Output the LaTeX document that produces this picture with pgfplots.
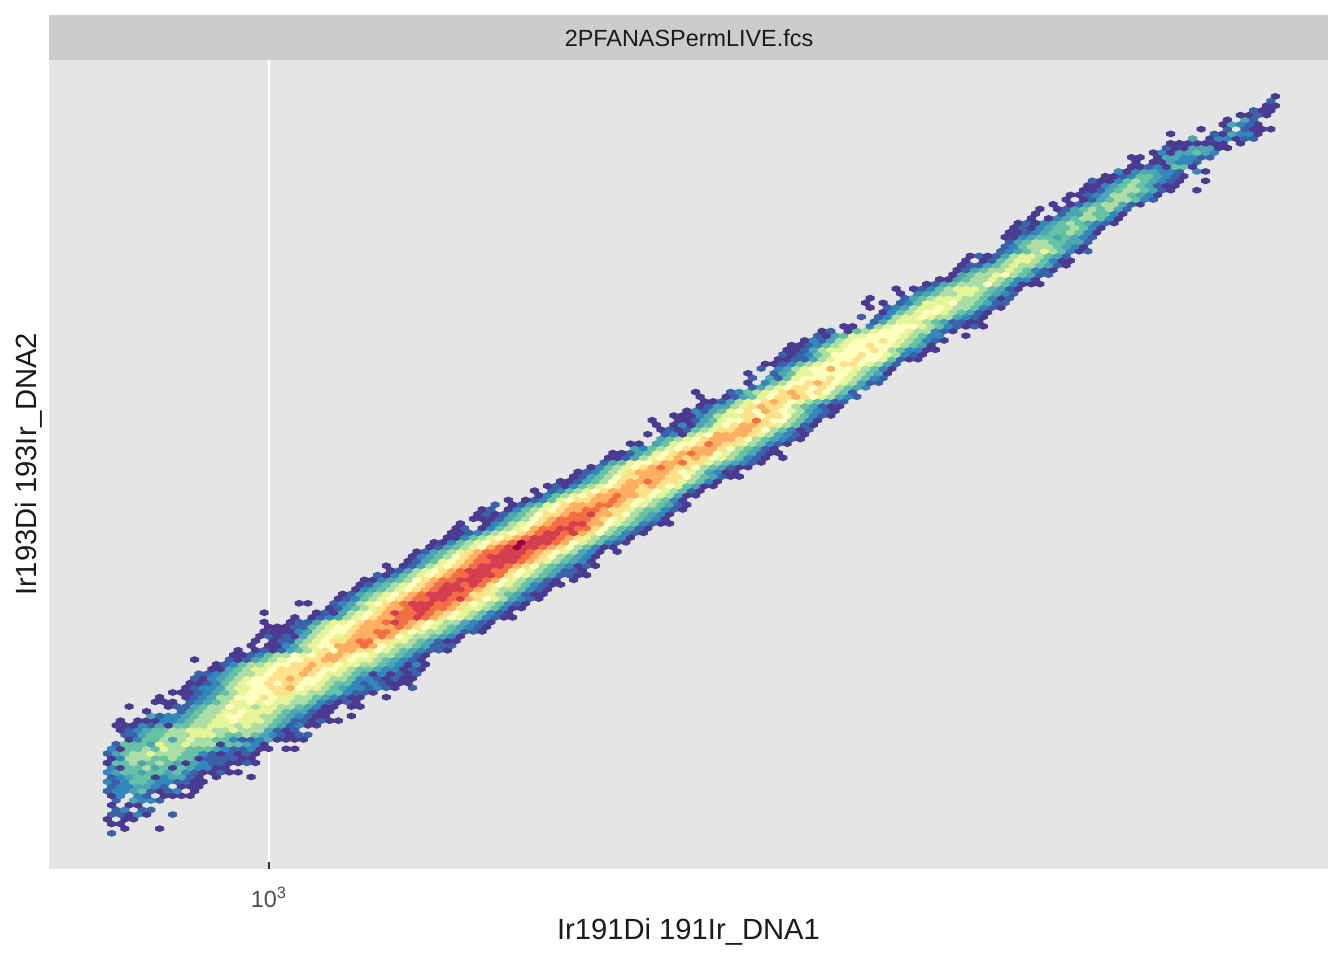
\documentclass[border=0pt]{standalone}
\usepackage{pgfplots}
\pgfplotsset{compat=1.18}
\usepackage{fontspec}
\setmainfont{Liberation Sans}
\definecolor{panel}{HTML}{E5E5E5}
\definecolor{strip}{HTML}{CCCCCC}
\definecolor{tk}{HTML}{333333}
\definecolor{tl}{HTML}{4D4D4D}
\definecolor{ttl}{HTML}{1A1A1A}
\pgfdeclareplotmark{hex}{%
  \pgfpathmoveto{\pgfqpoint{0pt}{1.7pt}}%
  \pgfpathlineto{\pgfqpoint{2.25pt}{0.85pt}}%
  \pgfpathlineto{\pgfqpoint{2.25pt}{-0.85pt}}%
  \pgfpathlineto{\pgfqpoint{0pt}{-1.7pt}}%
  \pgfpathlineto{\pgfqpoint{-2.25pt}{-0.85pt}}%
  \pgfpathlineto{\pgfqpoint{-2.25pt}{0.85pt}}%
  \pgfpathclose\pgfusepathqfill}
\begin{document}
\begin{tikzpicture}
\useasboundingbox (0,0) rectangle (672pt,480pt);
\fill[strip] (24.5pt,449.9pt) rectangle (664pt,472.5pt);
\node[text=ttl,font=\fontsize{11.7}{14}\selectfont,inner sep=0pt] at (344.5pt,461pt) {2PFANASPermLIVE.fcs};
\begin{axis}[
  at={(24.5pt,45.5pt)},anchor=south west,
  scale only axis,width=639.5pt,height=404.5pt,
  xmin=-12.39,xmax=281.09,ymin=-7.6,ymax=164.74,
  axis background/.style={fill=panel},
  axis line style={draw=none},
  xtick={38.09},xticklabels={10\textsuperscript{3}},ytick=\empty,
  tick pos=bottom,
  major tick length=3.5pt,
  tick style={draw=tk,line width=1pt},
  xmajorgrids,
  major grid style={draw=white,line width=1.2pt},
  x tick label style={text=tl,font=\fontsize{11.7}{14}\selectfont,inner sep=0pt,yshift=-9pt},
  xlabel={Ir191Di 191Ir\_DNA1},ylabel={Ir193Di 193Ir\_DNA2},
  every axis x label/.style={at={(axis description cs:0.5,0)},anchor=north,inner sep=0pt,yshift=-24.5pt,text=ttl,font=\fontsize{14.6}{17}\selectfont},
  every axis y label/.style={at={(axis description cs:0,0.5)},rotate=90,anchor=south,inner sep=0pt,yshift=3pt,text=ttl,font=\fontsize{14.6}{17}\selectfont},
  colormap={spec}{rgb255=(74,58,146) rgb255=(58,98,170) rgb255=(50,136,189) rgb255=(75,165,178) rgb255=(102,194,165) rgb255=(171,221,164) rgb255=(230,245,152) rgb255=(255,255,191) rgb255=(254,224,139) rgb255=(253,174,97) rgb255=(244,109,67) rgb255=(213,62,79) rgb255=(158,1,66)},
  point meta min=0,point meta max=12,
]
\addplot[scatter,only marks,mark=hex,point meta=explicit,scatter/use mapped color={draw=none,fill=mapped color}] table[x=i,y=j,meta=c] {
i j c
2 0 1
5 1 0
13 1 0
2 2 0
4 2 0
1 3 0
5 3 0
7 3 0
2 4 1
4 4 1
6 4 0
8 4 2
10 4 0
16 4 1
3 5 1
5 5 2
9 5 1
11 5 1
2 6 0
6 6 0
8 6 0
3 7 1
7 7 3
9 7 2
11 7 2
13 7 1
2 8 0
4 8 2
8 8 2
10 8 1
14 8 0
16 8 0
18 8 0
20 8 0
1 9 1
3 9 2
5 9 2
7 9 3
9 9 4
11 9 1
13 9 0
15 9 1
17 9 2
21 9 0
2 10 1
4 10 2
6 10 2
8 10 3
10 10 3
12 10 2
14 10 1
18 10 0
20 10 0
22 10 0
1 11 2
3 11 1
5 11 2
7 11 4
9 11 4
11 11 3
13 11 2
15 11 2
17 11 1
19 11 1
21 11 0
23 11 0
2 12 1
4 12 2
6 12 3
8 12 4
10 12 4
12 12 0
14 12 2
16 12 3
18 12 3
20 12 1
22 12 0
26 12 0
34 12 0
1 13 2
3 13 3
5 13 4
7 13 4
9 13 3
11 13 4
13 13 4
15 13 3
17 13 4
19 13 2
21 13 1
23 13 0
25 13 0
27 13 1
29 13 0
31 13 0
2 14 2
4 14 0
6 14 4
8 14 4
10 14 5
12 14 3
14 14 4
16 14 0
18 14 4
20 14 3
22 14 2
24 14 2
26 14 0
28 14 0
1 15 0
3 15 4
5 15 4
7 15 5
9 15 3
11 15 4
13 15 5
15 15 4
17 15 3
19 15 0
21 15 3
23 15 2
25 15 1
27 15 1
29 15 0
31 15 0
33 15 1
35 15 0
2 16 0
4 16 2
6 16 5
8 16 5
10 16 5
12 16 4
14 16 4
16 16 5
18 16 4
20 16 4
22 16 0
24 16 1
26 16 1
28 16 1
30 16 1
32 16 0
34 16 0
1 17 1
3 17 3
5 17 4
7 17 5
9 17 5
11 17 6
13 17 5
15 17 5
17 17 5
19 17 4
21 17 4
23 17 2
25 17 1
27 17 0
29 17 1
31 17 0
33 17 1
35 17 0
2 18 2
4 18 0
6 18 4
8 18 4
10 18 5
12 18 4
14 18 6
16 18 5
18 18 5
20 18 4
22 18 4
24 18 4
26 18 3
28 18 2
30 18 1
32 18 1
34 18 2
36 18 0
38 18 0
42 18 0
44 18 0
3 19 1
5 19 4
7 19 4
9 19 4
11 19 3
13 19 6
15 19 5
17 19 5
19 19 6
21 19 5
23 19 5
25 19 5
27 19 0
29 19 4
31 19 4
33 19 3
35 19 2
37 19 0
6 20 0
8 20 2
10 20 4
12 20 4
14 20 5
16 20 3
18 20 5
20 20 6
22 20 5
24 20 5
26 20 4
28 20 4
30 20 2
32 20 1
34 20 1
36 20 2
38 20 3
40 20 0
42 20 0
44 20 0
46 20 0
5 21 1
7 21 1
9 21 3
11 21 4
13 21 4
15 21 5
17 21 5
19 21 5
21 21 6
23 21 6
25 21 6
27 21 5
29 21 4
31 21 4
33 21 5
35 21 4
37 21 3
39 21 2
41 21 1
43 21 0
45 21 1
47 21 1
4 22 0
6 22 1
8 22 2
10 22 3
12 22 4
14 22 4
16 22 5
18 22 5
20 22 6
22 22 6
24 22 6
26 22 5
28 22 5
30 22 6
32 22 5
34 22 5
36 22 5
38 22 3
40 22 1
42 22 0
44 22 1
3 23 0
5 23 0
7 23 0
9 23 2
11 23 1
13 23 3
15 23 0
17 23 4
19 23 4
21 23 5
23 23 5
25 23 6
27 23 6
29 23 6
31 23 5
33 23 6
35 23 5
37 23 5
39 23 4
41 23 3
43 23 1
45 23 2
47 23 0
49 23 0
4 24 0
8 24 0
10 24 0
12 24 0
14 24 2
16 24 2
18 24 3
20 24 4
22 24 5
24 24 5
26 24 6
28 24 6
30 24 7
32 24 6
34 24 6
36 24 6
38 24 5
40 24 4
42 24 3
44 24 1
46 24 1
48 24 0
50 24 1
52 24 0
54 24 0
11 25 3
13 25 1
15 25 2
17 25 2
19 25 3
21 25 4
23 25 5
25 25 5
27 25 6
29 25 7
31 25 7
33 25 6
35 25 6
37 25 5
39 25 5
41 25 4
43 25 3
45 25 2
47 25 1
49 25 0
51 25 0
57 25 0
10 26 0
18 26 1
20 26 3
22 26 4
24 26 5
26 26 5
28 26 6
30 26 6
32 26 7
34 26 6
36 26 6
38 26 6
40 26 5
42 26 4
44 26 3
46 26 3
48 26 1
50 26 0
52 26 0
6 27 0
15 27 0
17 27 1
19 27 1
21 27 3
23 27 4
25 27 5
27 27 5
29 27 7
31 27 6
33 27 6
35 27 5
37 27 6
39 27 6
41 27 5
43 27 5
45 27 4
47 27 3
49 27 2
51 27 0
53 27 0
57 27 0
59 27 0
12 28 0
14 28 0
16 28 0
20 28 1
22 28 2
24 28 3
26 28 4
28 28 5
30 28 6
32 28 6
34 28 7
36 28 6
38 28 7
40 28 6
42 28 6
44 28 5
46 28 5
48 28 4
50 28 2
52 28 1
54 28 0
56 28 1
58 28 0
13 29 0
19 29 0
21 29 1
23 29 2
25 29 3
27 29 5
29 29 5
31 29 7
33 29 7
35 29 7
37 29 8
39 29 7
41 29 6
43 29 6
45 29 5
47 29 5
49 29 4
51 29 3
53 29 2
55 29 1
57 29 0
59 29 0
65 29 0
16 30 0
18 30 0
20 30 0
22 30 1
24 30 2
26 30 3
28 30 4
30 30 5
32 30 6
34 30 7
36 30 7
38 30 7
40 30 8
42 30 8
44 30 6
46 30 6
48 30 5
50 30 5
52 30 4
54 30 4
56 30 2
58 30 1
60 30 1
62 30 0
19 31 0
21 31 1
23 31 2
25 31 2
27 31 3
29 31 5
31 31 6
33 31 6
35 31 7
37 31 7
39 31 8
41 31 8
43 31 9
45 31 7
47 31 6
49 31 6
51 31 5
53 31 4
55 31 3
57 31 2
59 31 2
61 31 1
63 31 2
65 31 1
67 31 0
71 31 1
20 32 0
22 32 0
24 32 1
26 32 2
28 32 4
30 32 5
32 32 6
34 32 7
36 32 7
38 32 8
40 32 7
42 32 8
44 32 8
46 32 7
48 32 7
50 32 6
52 32 5
54 32 4
56 32 4
58 32 2
60 32 1
62 32 2
64 32 1
66 32 0
68 32 0
70 32 0
21 33 1
23 33 0
25 33 2
27 33 3
29 33 4
31 33 5
33 33 6
35 33 7
37 33 7
39 33 8
41 33 8
43 33 9
45 33 8
47 33 7
49 33 7
51 33 6
53 33 5
55 33 5
57 33 4
59 33 2
61 33 2
63 33 1
65 33 0
67 33 1
69 33 0
71 33 0
22 34 1
24 34 1
26 34 2
28 34 3
30 34 4
32 34 5
34 34 5
36 34 6
38 34 7
40 34 8
42 34 8
44 34 8
46 34 9
48 34 8
50 34 7
52 34 6
54 34 6
56 34 5
58 34 4
60 34 3
62 34 0
64 34 2
66 34 0
68 34 1
70 34 0
72 34 1
25 35 0
27 35 0
29 35 3
31 35 4
33 35 5
35 35 6
37 35 6
39 35 7
41 35 8
43 35 8
45 35 8
47 35 9
49 35 8
51 35 7
53 35 7
55 35 6
57 35 5
59 35 4
61 35 4
63 35 3
65 35 2
67 35 2
69 35 0
71 35 1
73 35 0
26 36 0
28 36 1
30 36 2
32 36 4
34 36 5
36 36 5
38 36 6
40 36 7
42 36 7
44 36 8
46 36 8
48 36 9
50 36 8
52 36 8
54 36 7
56 36 6
58 36 6
60 36 5
62 36 5
64 36 4
66 36 3
68 36 2
70 36 0
72 36 2
74 36 0
21 37 0
29 37 1
31 37 0
33 37 1
35 37 3
37 37 4
39 37 5
41 37 6
43 37 7
45 37 7
47 37 8
49 37 8
51 37 9
53 37 9
55 37 8
57 37 7
59 37 6
61 37 6
63 37 5
65 37 4
67 37 3
69 37 2
71 37 1
73 37 0
30 38 0
32 38 0
34 38 1
36 38 2
38 38 4
40 38 5
42 38 5
44 38 7
46 38 6
48 38 7
50 38 8
52 38 9
54 38 9
56 38 8
58 38 7
60 38 7
62 38 6
64 38 5
66 38 5
68 38 4
70 38 3
72 38 1
74 38 0
79 39 0
31 39 0
35 39 0
37 39 1
39 39 0
41 39 1
43 39 3
45 39 4
47 39 5
49 39 6
51 39 8
53 39 7
55 39 9
57 39 9
59 39 8
61 39 8
63 39 7
65 39 6
67 39 5
69 39 4
71 39 3
73 39 2
75 39 1
77 39 1
34 40 0
38 40 0
40 40 0
42 40 2
44 40 3
46 40 5
48 40 6
50 40 7
52 40 7
54 40 9
56 40 9
58 40 9
60 40 10
62 40 9
64 40 7
66 40 6
68 40 5
70 40 5
72 40 4
74 40 3
76 40 1
78 40 1
80 40 1
35 41 0
39 41 0
41 41 1
43 41 1
45 41 4
47 41 5
49 41 6
51 41 7
53 41 8
55 41 8
57 41 9
59 41 10
61 41 10
63 41 8
65 41 8
67 41 6
69 41 6
71 41 5
73 41 4
75 41 3
77 41 1
79 41 0
81 41 0
36 42 0
38 42 1
40 42 0
42 42 1
44 42 0
46 42 3
48 42 5
50 42 6
52 42 7
54 42 6
56 42 8
58 42 9
60 42 9
62 42 9
64 42 10
66 42 9
68 42 7
70 42 6
72 42 5
74 42 5
76 42 4
78 42 3
80 42 2
82 42 0
37 43 0
39 43 0
41 43 0
43 43 0
45 43 2
47 43 3
49 43 5
51 43 6
53 43 7
55 43 7
57 43 8
59 43 9
61 43 9
63 43 10
65 43 10
67 43 9
69 43 8
71 43 7
73 43 6
75 43 5
77 43 5
79 43 4
81 43 3
83 43 1
85 43 1
87 43 0
38 44 0
40 44 0
42 44 0
44 44 1
46 44 1
48 44 4
50 44 5
52 44 6
54 44 7
56 44 7
58 44 8
60 44 9
62 44 9
64 44 9
66 44 9
68 44 10
70 44 9
72 44 8
74 44 7
76 44 6
78 44 5
80 44 4
82 44 3
84 44 2
86 44 1
88 44 0
37 45 0
43 45 0
45 45 1
47 45 1
49 45 3
51 45 5
53 45 6
55 45 6
57 45 7
59 45 8
61 45 9
63 45 9
65 45 10
67 45 11
69 45 10
71 45 9
73 45 8
75 45 7
77 45 6
79 45 5
81 45 5
83 45 3
85 45 2
87 45 1
89 45 0
44 46 0
48 46 0
50 46 1
52 46 2
54 46 3
56 46 5
58 46 6
60 46 7
62 46 8
64 46 9
66 46 9
68 46 10
70 46 10
72 46 11
74 46 10
76 46 9
78 46 8
80 46 7
82 46 6
84 46 5
86 46 4
88 46 2
90 46 1
92 46 0
94 46 0
37 47 0
49 47 0
51 47 1
53 47 0
55 47 3
57 47 5
59 47 6
61 47 7
63 47 8
65 47 9
67 47 11
69 47 10
71 47 10
73 47 11
75 47 10
77 47 9
79 47 8
81 47 7
83 47 6
85 47 5
87 47 4
89 47 2
91 47 1
93 47 0
52 48 0
54 48 1
56 48 3
58 48 4
60 48 5
62 48 6
64 48 8
66 48 9
68 48 9
70 48 10
72 48 11
74 48 11
76 48 10
78 48 10
80 48 9
82 48 8
84 48 6
86 48 6
88 48 5
90 48 4
92 48 2
94 48 0
96 48 0
45 49 0
47 49 0
53 49 1
55 49 2
57 49 3
59 49 5
61 49 6
63 49 7
65 49 8
67 49 9
69 49 10
71 49 11
73 49 11
75 49 11
77 49 10
79 49 10
81 49 9
83 49 8
85 49 7
87 49 6
89 49 5
91 49 4
93 49 2
95 49 1
97 49 0
54 50 0
56 50 1
58 50 2
60 50 4
62 50 5
64 50 6
66 50 7
68 50 8
70 50 9
72 50 10
74 50 10
76 50 11
78 50 11
80 50 10
82 50 11
84 50 9
86 50 8
88 50 7
90 50 6
92 50 5
94 50 3
96 50 2
98 50 1
100 50 0
55 51 0
57 51 1
59 51 3
61 51 4
63 51 5
65 51 6
67 51 7
69 51 8
71 51 9
73 51 10
75 51 11
77 51 11
79 51 11
81 51 10
83 51 10
85 51 8
87 51 8
89 51 6
91 51 5
93 51 4
95 51 3
97 51 1
99 51 0
101 51 0
58 52 0
60 52 2
62 52 3
64 52 4
66 52 5
68 52 6
70 52 7
72 52 8
74 52 9
76 52 10
78 52 11
80 52 11
82 52 11
84 52 10
86 52 9
88 52 8
90 52 6
92 52 5
94 52 5
96 52 4
98 52 2
100 52 1
102 52 0
59 53 0
61 53 1
63 53 3
65 53 4
67 53 5
69 53 6
71 53 7
73 53 8
75 53 9
77 53 10
79 53 11
81 53 11
83 53 10
85 53 11
87 53 10
89 53 8
91 53 7
93 53 6
95 53 5
97 53 4
99 53 2
101 53 1
103 53 0
105 53 0
60 54 0
62 54 0
64 54 2
66 54 3
68 54 4
70 54 5
72 54 7
74 54 8
76 54 9
78 54 10
80 54 10
82 54 11
84 54 11
86 54 11
88 54 10
90 54 9
92 54 7
94 54 6
96 54 5
98 54 4
100 54 3
102 54 1
104 54 0
108 54 0
63 55 1
65 55 0
67 55 2
69 55 4
71 55 5
73 55 6
75 55 7
77 55 8
79 55 9
81 55 10
83 55 10
85 55 11
87 55 11
89 55 11
91 55 10
93 55 8
95 55 7
97 55 6
99 55 5
101 55 4
103 55 3
105 55 1
107 55 1
109 55 0
111 55 0
66 56 0
68 56 1
70 56 3
72 56 5
74 56 6
76 56 7
78 56 8
80 56 9
82 56 10
84 56 11
86 56 11
88 56 11
90 56 10
92 56 10
94 56 8
96 56 7
98 56 6
100 56 5
102 56 4
104 56 3
106 56 1
108 56 1
110 56 0
65 57 0
69 57 0
71 57 1
73 57 3
75 57 5
77 57 6
79 57 7
81 57 8
83 57 9
85 57 10
87 57 11
89 57 11
91 57 11
93 57 10
95 57 9
97 57 8
99 57 7
101 57 5
103 57 4
105 57 3
107 57 2
109 57 0
111 57 1
113 57 0
70 58 0
72 58 1
74 58 3
76 58 4
78 58 6
80 58 7
82 58 8
84 58 9
86 58 10
88 58 10
90 58 11
92 58 11
94 58 11
96 58 10
98 58 9
100 58 8
102 58 6
104 58 5
106 58 4
108 58 3
110 58 2
112 58 0
71 59 0
73 59 2
75 59 3
77 59 4
79 59 5
81 59 7
83 59 8
85 59 9
87 59 10
89 59 11
91 59 11
93 59 11
95 59 11
97 59 10
99 59 9
101 59 8
103 59 7
105 59 5
107 59 4
109 59 3
111 59 2
113 59 0
72 60 0
74 60 1
76 60 3
78 60 4
80 60 5
82 60 6
84 60 8
86 60 9
88 60 10
90 60 10
92 60 11
94 60 11
96 60 11
98 60 10
100 60 9
102 60 8
104 60 7
106 60 6
108 60 5
110 60 3
112 60 2
114 60 0
118 60 0
75 61 0
77 61 1
79 61 3
81 61 4
83 61 5
85 61 6
87 61 7
89 61 9
91 61 10
93 61 11
95 61 12
97 61 11
99 61 11
101 61 10
103 61 9
105 61 8
107 61 7
109 61 5
111 61 4
113 61 2
115 61 0
117 61 0
76 62 0
78 62 0
80 62 2
82 62 4
84 62 5
86 62 6
88 62 7
90 62 8
92 62 9
94 62 10
96 62 12
98 62 11
100 62 11
102 62 11
104 62 10
106 62 9
108 62 7
110 62 6
112 62 5
114 62 4
116 62 2
118 62 1
120 62 0
79 63 0
81 63 0
83 63 2
85 63 4
87 63 5
89 63 6
91 63 7
93 63 8
95 63 9
97 63 10
99 63 11
101 63 11
103 63 11
105 63 10
107 63 9
109 63 8
111 63 6
113 63 5
115 63 4
117 63 3
119 63 2
121 63 0
80 64 0
82 64 0
84 64 1
86 64 2
88 64 4
90 64 5
92 64 6
94 64 7
96 64 8
98 64 9
100 64 10
102 64 11
104 64 11
106 64 10
108 64 11
110 64 9
112 64 8
114 64 7
116 64 5
118 64 4
120 64 2
122 64 1
124 64 0
81 65 0
83 65 1
87 65 0
89 65 2
91 65 4
93 65 5
95 65 6
97 65 7
99 65 9
101 65 10
103 65 10
105 65 11
107 65 11
109 65 10
111 65 10
113 65 8
115 65 7
117 65 5
119 65 4
121 65 3
123 65 1
125 65 0
82 66 0
88 66 0
90 66 2
92 66 3
94 66 5
96 66 6
98 66 7
100 66 8
102 66 9
104 66 10
106 66 10
108 66 11
110 66 11
112 66 9
114 66 9
116 66 7
118 66 6
120 66 5
122 66 4
124 66 2
126 66 1
128 66 0
130 66 0
85 67 0
87 67 0
89 67 0
91 67 1
93 67 3
95 67 4
97 67 5
99 67 7
101 67 8
103 67 9
105 67 10
107 67 10
109 67 10
111 67 10
113 67 9
115 67 8
117 67 7
119 67 6
121 67 5
123 67 4
125 67 3
127 67 2
129 67 0
86 68 0
88 68 1
90 68 0
92 68 1
94 68 3
96 68 4
98 68 5
100 68 7
102 68 8
104 68 8
106 68 9
108 68 10
110 68 10
112 68 11
114 68 9
116 68 9
118 68 8
120 68 7
122 68 5
124 68 4
126 68 3
128 68 2
130 68 0
87 69 0
89 69 1
93 69 0
95 69 2
97 69 4
99 69 5
101 69 6
103 69 7
105 69 8
107 69 9
109 69 9
111 69 10
113 69 10
115 69 9
117 69 8
119 69 8
121 69 6
123 69 5
125 69 4
127 69 4
129 69 2
131 69 1
133 69 0
90 70 1
94 70 0
96 70 1
98 70 3
100 70 4
102 70 6
104 70 7
106 70 8
108 70 9
110 70 9
112 70 9
114 70 10
116 70 10
118 70 9
120 70 8
122 70 7
124 70 6
126 70 5
128 70 4
130 70 3
132 70 1
134 70 0
93 71 0
97 71 0
99 71 1
101 71 2
103 71 4
105 71 6
107 71 7
109 71 8
111 71 8
113 71 9
115 71 9
117 71 10
119 71 9
121 71 8
123 71 7
125 71 6
127 71 5
129 71 4
131 71 2
133 71 0
100 72 0
102 72 2
104 72 4
106 72 5
108 72 6
110 72 7
112 72 8
114 72 9
116 72 9
118 72 10
120 72 9
122 72 9
124 72 8
126 72 7
128 72 6
130 72 5
132 72 3
134 72 0
136 72 0
99 73 0
103 73 1
105 73 2
107 73 4
109 73 5
111 73 6
113 73 7
115 73 8
117 73 9
119 73 9
121 73 9
123 73 8
125 73 8
127 73 7
129 73 6
131 73 5
133 73 4
135 73 1
137 73 0
102 74 0
104 74 1
106 74 0
108 74 2
110 74 4
112 74 5
114 74 6
116 74 7
118 74 8
120 74 9
122 74 9
124 74 8
126 74 9
128 74 8
130 74 7
132 74 6
134 74 4
136 74 3
138 74 0
140 74 0
105 75 0
107 75 0
109 75 1
111 75 3
113 75 4
115 75 5
117 75 7
119 75 8
121 75 9
123 75 9
125 75 10
127 75 9
129 75 8
131 75 8
133 75 6
135 75 5
137 75 4
139 75 2
141 75 0
108 76 0
110 76 1
112 76 3
114 76 4
116 76 5
118 76 7
120 76 8
122 76 8
124 76 9
126 76 9
128 76 9
130 76 8
132 76 8
134 76 7
136 76 5
138 76 4
140 76 3
142 76 1
144 76 0
146 76 0
109 77 0
111 77 1
113 77 2
115 77 4
117 77 5
119 77 6
121 77 8
123 77 9
125 77 9
127 77 9
129 77 9
131 77 8
133 77 7
135 77 6
137 77 5
139 77 3
141 77 2
143 77 0
145 77 0
112 78 0
114 78 2
116 78 4
118 78 5
120 78 6
122 78 7
124 78 8
126 78 9
128 78 10
130 78 9
132 78 8
134 78 8
136 78 7
138 78 5
140 78 4
142 78 3
144 78 1
146 78 0
148 78 0
115 79 1
117 79 3
119 79 4
121 79 6
123 79 7
125 79 7
127 79 8
129 79 9
131 79 9
133 79 10
135 79 8
137 79 8
139 79 6
141 79 5
143 79 4
145 79 3
147 79 2
149 79 1
151 79 0
116 80 0
118 80 0
120 80 1
122 80 3
124 80 5
126 80 6
128 80 7
130 80 8
132 80 9
134 80 8
136 80 9
138 80 8
140 80 7
142 80 6
144 80 5
146 80 4
148 80 2
150 80 1
152 80 0
156 80 0
117 81 0
119 81 0
121 81 1
123 81 3
125 81 4
127 81 6
129 81 7
131 81 8
133 81 9
135 81 10
137 81 9
139 81 9
141 81 7
143 81 6
145 81 5
147 81 4
149 81 3
151 81 1
153 81 0
155 81 0
122 82 3
124 82 2
126 82 4
128 82 5
130 82 6
132 82 7
134 82 8
136 82 9
138 82 9
140 82 9
142 82 8
144 82 7
146 82 5
148 82 4
150 82 3
152 82 1
154 82 0
121 83 0
123 83 0
127 83 3
129 83 4
131 83 6
133 83 7
135 83 7
137 83 8
139 83 10
141 83 9
143 83 8
145 83 8
147 83 6
149 83 5
151 83 4
153 83 2
155 83 1
157 83 0
128 84 3
130 84 4
132 84 5
134 84 6
136 84 7
138 84 8
140 84 9
142 84 9
144 84 9
146 84 8
148 84 7
150 84 5
152 84 4
154 84 3
156 84 2
158 84 1
160 84 0
125 85 0
129 85 1
131 85 2
133 85 0
135 85 5
137 85 6
139 85 7
141 85 9
143 85 9
145 85 9
147 85 9
149 85 8
151 85 6
153 85 5
155 85 3
157 85 2
159 85 1
161 85 0
128 86 0
130 86 1
132 86 0
134 86 1
136 86 4
138 86 5
140 86 6
142 86 8
144 86 8
146 86 9
148 86 9
150 86 8
152 86 7
154 86 5
156 86 4
158 86 2
160 86 0
162 86 1
127 87 0
131 87 0
133 87 2
135 87 0
137 87 3
139 87 4
141 87 6
143 87 7
145 87 8
147 87 9
149 87 9
151 87 8
153 87 8
155 87 6
157 87 5
159 87 4
161 87 1
163 87 0
126 88 0
132 88 0
134 88 0
136 88 1
138 88 3
140 88 4
142 88 6
144 88 7
146 88 7
148 88 8
150 88 10
152 88 8
154 88 7
156 88 7
158 88 5
160 88 4
162 88 2
164 88 0
131 89 0
133 89 0
135 89 0
137 89 2
139 89 3
141 89 5
143 89 6
145 89 6
147 89 8
149 89 8
151 89 7
153 89 8
155 89 8
157 89 7
159 89 5
161 89 4
163 89 2
165 89 1
167 89 0
134 90 0
136 90 2
138 90 1
140 90 3
142 90 4
144 90 6
146 90 7
148 90 8
150 90 7
152 90 9
154 90 8
156 90 7
158 90 6
160 90 5
162 90 3
164 90 2
166 90 1
168 90 0
137 91 0
139 91 1
141 91 3
143 91 3
145 91 5
147 91 6
149 91 8
151 91 9
153 91 8
155 91 8
157 91 7
159 91 5
161 91 4
163 91 3
165 91 1
167 91 0
169 91 0
138 92 0
140 92 0
142 92 1
144 92 3
146 92 5
148 92 6
150 92 7
152 92 8
154 92 9
156 92 8
158 92 7
160 92 6
162 92 5
164 92 4
166 92 3
168 92 1
170 92 1
137 93 0
143 93 0
145 93 1
147 93 3
149 93 4
151 93 6
153 93 7
155 93 8
157 93 8
159 93 9
161 93 8
163 93 7
165 93 6
167 93 5
169 93 3
171 93 2
173 93 1
136 94 0
144 94 1
146 94 2
148 94 4
150 94 5
152 94 6
154 94 7
156 94 8
158 94 9
160 94 8
162 94 7
164 94 8
166 94 7
168 94 5
170 94 4
172 94 1
149 95 1
151 95 3
153 95 5
155 95 6
157 95 7
159 95 8
161 95 8
163 95 7
165 95 8
167 95 7
169 95 5
171 95 4
173 95 3
175 95 2
148 96 0
152 96 2
154 96 4
156 96 5
158 96 7
160 96 7
162 96 8
164 96 9
166 96 8
168 96 7
170 96 6
172 96 5
174 96 3
176 96 1
178 96 1
149 97 1
153 97 3
155 97 1
157 97 4
159 97 6
161 97 7
163 97 7
165 97 7
167 97 8
169 97 7
171 97 6
173 97 5
175 97 4
177 97 2
179 97 1
148 98 0
154 98 1
156 98 3
158 98 4
160 98 6
162 98 6
164 98 7
166 98 7
168 98 7
170 98 7
172 98 6
174 98 5
176 98 4
178 98 3
180 98 0
151 99 1
155 99 2
157 99 3
159 99 5
161 99 6
163 99 7
165 99 7
167 99 9
169 99 7
171 99 7
173 99 6
175 99 5
177 99 4
179 99 2
181 99 0
152 100 0
154 100 0
156 100 1
158 100 2
160 100 4
162 100 5
164 100 6
166 100 7
168 100 7
170 100 8
172 100 8
174 100 7
176 100 6
178 100 5
180 100 3
182 100 1
155 101 0
157 101 0
159 101 1
161 101 1
163 101 3
165 101 5
167 101 6
169 101 7
171 101 7
173 101 8
175 101 7
177 101 7
179 101 6
181 101 4
183 101 1
185 101 0
187 101 0
156 102 1
158 102 0
160 102 1
162 102 2
164 102 4
166 102 5
168 102 7
170 102 7
172 102 7
174 102 8
176 102 7
178 102 7
180 102 6
182 102 5
184 102 2
186 102 1
188 102 0
157 103 0
159 103 0
161 103 1
163 103 3
165 103 5
167 103 6
169 103 6
171 103 7
173 103 7
175 103 7
177 103 8
179 103 7
181 103 5
183 103 4
185 103 2
187 103 2
189 103 0
191 103 0
158 104 0
160 104 0
162 104 1
164 104 2
166 104 4
168 104 5
170 104 6
172 104 7
174 104 7
176 104 8
178 104 7
180 104 7
182 104 6
184 104 5
186 104 4
188 104 3
190 104 0
161 105 0
163 105 2
165 105 1
167 105 3
169 105 5
171 105 6
173 105 7
175 105 7
177 105 7
179 105 8
181 105 7
183 105 6
185 105 5
187 105 4
189 105 2
191 105 1
193 105 0
164 106 1
166 106 0
168 106 3
170 106 4
172 106 6
174 106 6
176 106 7
178 106 7
180 106 7
182 106 7
184 106 6
186 106 5
188 106 4
190 106 2
192 106 2
198 106 0
165 107 0
167 107 1
171 107 0
173 107 4
175 107 5
177 107 6
179 107 7
181 107 7
183 107 7
185 107 6
187 107 5
189 107 5
191 107 2
193 107 1
195 107 0
170 108 0
172 108 0
176 108 2
178 108 5
180 108 6
182 108 7
184 108 7
186 108 7
188 108 6
190 108 5
192 108 4
194 108 2
196 108 1
198 108 0
200 108 1
202 108 0
177 109 1
179 109 3
181 109 5
183 109 6
185 109 6
187 109 6
189 109 5
191 109 4
193 109 3
195 109 1
197 109 1
199 109 0
201 109 0
174 110 1
178 110 1
180 110 2
182 110 5
184 110 6
186 110 6
188 110 7
190 110 6
192 110 5
194 110 5
196 110 3
198 110 2
200 110 1
202 110 0
179 111 0
181 111 2
183 111 4
185 111 5
187 111 6
189 111 7
191 111 7
193 111 6
195 111 5
197 111 4
199 111 3
201 111 1
203 111 0
176 112 0
180 112 1
182 112 2
184 112 3
186 112 5
188 112 6
190 112 6
192 112 7
194 112 6
196 112 5
198 112 5
200 112 4
202 112 2
204 112 1
206 112 0
175 113 0
179 113 0
183 113 1
185 113 2
187 113 4
189 113 6
191 113 6
193 113 6
195 113 7
197 113 5
199 113 5
201 113 4
203 113 3
205 113 1
207 113 1
176 114 0
184 114 1
186 114 3
188 114 4
190 114 5
192 114 6
194 114 6
196 114 6
198 114 5
200 114 5
202 114 4
204 114 2
206 114 0
208 114 1
183 115 0
187 115 2
189 115 3
191 115 4
193 115 5
195 115 5
197 115 6
199 115 6
201 115 5
203 115 4
205 115 3
207 115 2
209 115 1
182 116 0
186 116 0
188 116 1
190 116 2
192 116 4
194 116 5
196 116 6
198 116 6
200 116 6
202 116 5
204 116 4
206 116 3
208 116 1
210 116 0
189 117 0
191 117 1
193 117 3
195 117 4
197 117 5
199 117 5
201 117 5
203 117 7
205 117 5
207 117 4
209 117 2
211 117 0
213 117 0
215 117 0
192 118 0
194 118 0
196 118 3
198 118 4
200 118 5
202 118 5
204 118 6
206 118 5
208 118 4
210 118 2
212 118 2
214 118 0
195 119 0
197 119 3
199 119 4
201 119 5
203 119 5
205 119 6
207 119 7
209 119 5
211 119 4
213 119 3
215 119 1
217 119 1
196 120 0
198 120 1
200 120 3
202 120 4
204 120 5
206 120 5
208 120 6
210 120 5
212 120 4
214 120 2
216 120 1
218 120 0
197 121 0
199 121 1
201 121 1
203 121 3
205 121 4
207 121 5
209 121 6
211 121 5
213 121 5
215 121 4
217 121 3
219 121 1
221 121 0
198 122 0
202 122 0
204 122 1
206 122 4
208 122 5
210 122 6
212 122 6
214 122 5
216 122 4
218 122 2
220 122 0
222 122 0
199 123 0
201 123 1
203 123 0
205 123 1
207 123 3
209 123 5
211 123 6
213 123 6
215 123 5
217 123 4
219 123 3
221 123 1
206 124 1
208 124 2
210 124 3
212 124 4
214 124 5
216 124 6
218 124 5
220 124 4
222 124 2
224 124 0
226 124 1
207 125 1
209 125 2
211 125 4
213 125 5
215 125 5
217 125 5
219 125 4
221 125 3
223 125 2
225 125 0
208 126 1
210 126 3
212 126 4
214 126 5
216 126 5
218 126 4
220 126 4
222 126 3
224 126 3
226 126 1
207 127 0
209 127 0
211 127 2
213 127 3
215 127 4
217 127 4
219 127 3
221 127 4
223 127 3
225 127 2
227 127 1
208 128 0
210 128 0
212 128 1
214 128 2
216 128 3
218 128 4
220 128 4
222 128 5
224 128 4
226 128 2
228 128 0
209 129 0
211 129 1
213 129 0
215 129 2
217 129 3
219 129 4
221 129 4
223 129 5
225 129 4
227 129 2
229 129 0
210 130 0
212 130 1
214 130 0
216 130 2
218 130 3
220 130 4
222 130 5
224 130 4
226 130 3
228 130 2
230 130 1
232 130 0
213 131 0
217 131 0
219 131 2
221 131 3
223 131 4
225 131 5
227 131 5
229 131 4
231 131 2
233 131 0
214 132 0
220 132 1
222 132 3
224 132 3
226 132 5
228 132 4
230 132 4
232 132 2
234 132 0
215 133 0
219 133 0
221 133 1
223 133 3
225 133 4
227 133 5
229 133 4
231 133 5
233 133 3
235 133 1
218 134 0
222 134 0
224 134 1
226 134 3
228 134 4
230 134 5
232 134 5
234 134 3
236 134 1
238 134 0
221 135 0
225 135 0
227 135 1
229 135 3
231 135 4
233 135 5
235 135 5
237 135 4
239 135 2
241 135 1
222 136 0
224 136 0
226 136 1
228 136 2
230 136 3
232 136 5
234 136 5
236 136 4
238 136 3
240 136 2
242 136 0
225 137 0
227 137 0
229 137 1
231 137 3
233 137 4
235 137 5
237 137 5
239 137 4
241 137 3
243 137 1
245 137 0
251 137 0
226 138 0
228 138 0
230 138 2
232 138 3
234 138 4
236 138 5
238 138 4
240 138 3
242 138 1
244 138 0
246 138 0
227 139 1
229 139 0
231 139 0
233 139 2
235 139 4
237 139 5
239 139 4
241 139 3
243 139 2
245 139 1
247 139 0
253 139 0
230 140 0
232 140 0
234 140 1
236 140 2
238 140 4
240 140 4
242 140 3
244 140 2
246 140 1
248 140 0
233 141 2
235 141 0
237 141 2
239 141 3
241 141 3
243 141 2
245 141 2
247 141 1
251 141 2
253 141 0
236 142 0
238 142 0
240 142 1
242 142 2
244 142 0
246 142 4
248 142 4
250 142 0
237 143 0
241 143 0
243 143 0
245 143 3
247 143 2
249 143 2
251 143 1
236 144 0
238 144 0
242 144 0
244 144 3
246 144 3
248 144 2
250 144 2
252 144 1
254 144 1
241 145 0
243 145 2
245 145 0
247 145 3
249 145 3
251 145 4
253 145 3
255 145 2
244 146 1
246 146 0
248 146 0
250 146 3
252 146 3
254 146 3
256 146 0
258 146 0
245 147 0
247 147 0
249 147 0
251 147 0
253 147 0
255 147 0
257 147 0
261 147 0
250 148 3
254 148 0
256 148 2
258 148 2
260 148 0
262 148 1
264 148 1
245 149 0
255 149 1
257 149 0
259 149 3
261 149 2
263 149 2
265 149 0
252 150 0
258 150 1
262 150 1
264 150 0
266 150 0
268 150 0
257 151 0
259 151 3
261 151 2
263 151 1
265 151 0
258 152 0
262 152 3
264 152 1
261 153 0
263 153 0
265 153 1
267 153 0
264 154 1
266 154 0
268 154 0
267 155 0
269 155 0
268 156 1
269 157 0
};
\end{axis}
\end{tikzpicture}
\end{document}
